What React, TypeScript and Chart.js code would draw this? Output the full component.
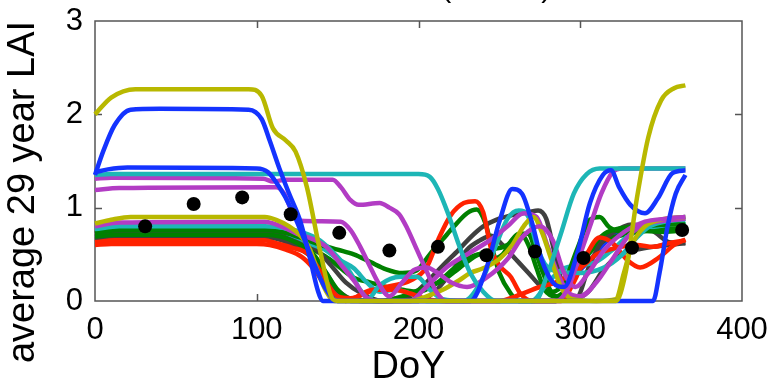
import React, { useEffect, useRef } from "react";
import { Chart, registerables } from "chart.js";
Chart.register(...registerables);

type P = [number, number];

const X_TICKS = [0, 100, 200, 300, 400];
const Y_TICKS = [0, 1, 2, 3];
const X_LABEL = "DoY";
const Y_LABEL = "average 29 year LAI";
const TITLE = "LAI (DGVM)";

const monthDoY = [31, 61, 91, 121, 151, 182, 212, 242, 272, 302, 332, 363];
const monthMeanLAI = [0.8, 1.04, 1.11, 0.93, 0.73, 0.54, 0.58, 0.49, 0.53, 0.46, 0.57, 0.76];

const RED = "#ff2200";
const GREEN = "#008000";
const BLUE = "#1433ff";
const MAGENTA = "#b23cc4";
const CYAN = "#1db6b6";
const OLIVE = "#b8b800";
const GRAY = "#404040";

const blueLow: P[] = [[0,0.68],[15,0.7],[105,0.7],[115,0.68],[125,0.6],[135,0.48],[143,0.3],[150,0.1],[158,0],[285,0],[296,0.26],[306,0.44],[317,0.65],[330,0.78],[343,0.83],[355,0.88],[365,0.9]];
const grayB: P[] = [[0,0.66],[15,0.68],[105,0.68],[120,0.62],[135,0.45],[145,0.2],[155,0.05],[165,0],[200,0],[210,0.1],[220,0.3],[230,0.55],[238,0.65],[245,0.7],[252,0.6],[260,0.45],[268,0.3],[276,0.15],[285,0.05],[295,0.02],[305,0.1],[315,0.35],[325,0.5],[335,0.55],[345,0.58],[355,0.6],[365,0.62]];
const greenC: P[] = [[0,0.72],[15,0.74],[105,0.74],[115,0.72],[125,0.65],[135,0.55],[145,0.45],[152,0.35],[160,0.25],[170,0.2],[180,0.15],[190,0.12],[200,0.1],[212,0.2],[222,0.35],[230,0.45],[238,0.5],[245,0.45],[252,0.5],[258,0.65],[263,0.72],[268,0.6],[273,0.35],[278,0.12],[285,0.05],[295,0.2],[305,0.5],[315,0.65],[325,0.7],[340,0.75],[352,0.77],[365,0.78]];
const grayA: P[] = [[0,0.72],[15,0.74],[105,0.74],[115,0.72],[125,0.67],[135,0.58],[145,0.4],[155,0.2],[165,0.08],[178,0],[195,0.05],[205,0.2],[215,0.38],[225,0.55],[232,0.68],[240,0.8],[248,0.87],[258,0.92],[268,0.95],[274,0.97],[279,0.88],[283,0.6],[287,0.3],[292,0.08],[298,0.05],[305,0.35],[312,0.6],[320,0.73],[332,0.82],[345,0.75],[355,0.63],[365,0.62]];
const cyanC: P[] = [[0,0.76],[15,0.78],[105,0.78],[115,0.75],[125,0.68],[135,0.6],[142,0.55],[150,0.45],[160,0.35],[168,0.2],[176,0.1],[185,0.12],[195,0.08],[205,0],[270,0],[280,0.2],[290,0.35],[300,0.38],[310,0.42],[320,0.55],[330,0.7],[342,0.78],[355,0.82],[365,0.85]];
const greenB: P[] = [[0,0.69],[15,0.71],[105,0.71],[115,0.69],[125,0.62],[135,0.5],[143,0.3],[150,0.12],[158,0.02],[175,0],[190,0.05],[205,0.15],[215,0.22],[225,0.35],[235,0.48],[245,0.55],[255,0.6],[262,0.72],[268,0.72],[272,0.55],[277,0.3],[283,0.1],[290,0.2],[298,0.55],[306,0.87],[312,0.9],[318,0.79],[329,0.73],[340,0.75],[352,0.74],[365,0.76]];
const greenA: P[] = [[0,0.73],[15,0.76],[105,0.76],[112,0.75],[120,0.72],[130,0.66],[140,0.6],[150,0.55],[160,0.5],[170,0.42],[180,0.34],[190,0.3],[199,0.33],[207,0.5],[215,0.66],[222,0.8],[230,0.94],[236,0.98],[241,0.85],[245,0.6],[250,0.3],[257,0.08],[262,0],[285,0],[292,0.1],[300,0.35],[306,0.55],[315,0.72],[325,0.78],[340,0.8],[355,0.82],[365,0.82]];
const redB: P[] = [[0,0.63],[12,0.65],[105,0.65],[112,0.62],[122,0.57],[132,0.5],[140,0.3],[147,0.1],[155,0],[160,0.03],[172,0.12],[185,0.12],[195,0.08],[205,0.02],[215,0],[250,0],[260,0.05],[275,0.15],[285,0.2],[300,0.35],[310,0.5],[318,0.55],[325,0.58],[335,0.6],[345,0.58],[355,0.62],[365,0.65]];
const redA: P[] = [[0,0.6],[10,0.61],[100,0.61],[108,0.6],[118,0.55],[128,0.47],[135,0.35],[142,0.18],[150,0.05],[158,0.03],[170,0.1],[180,0.15],[195,0.22],[205,0.36],[212,0.65],[220,0.92],[228,1.05],[235,1.07],[240,0.95],[245,0.55],[250,0.38],[257,0.26],[263,0.08],[270,0],[288,0],[296,0.2],[304,0.5],[312,0.68],[320,0.62],[329,0.44],[337,0.36],[349,0.47],[358,0.6],[365,0.66]];
const cyanB: P[] = [[0,0.77],[15,0.8],[105,0.8],[118,0.78],[129,0.73],[139,0.65],[150,0.47],[158,0.3],[164,0.12],[169,0.03],[176,0.17],[189,0.26],[199,0.26],[207,0.12],[215,0.02],[228,0],[240,0.25],[248,0.6],[255,0.88],[262,0.97],[268,0.9],[273,0.6],[278,0.4],[285,0.32],[300,0.3],[315,0.36],[325,0.48],[335,0.68],[343,0.8],[355,0.86],[365,0.88]];
const magentaC: P[] = [[0,0.8],[15,0.84],[105,0.85],[115,0.8],[125,0.72],[135,0.66],[143,0.58],[153,0.37],[160,0.22],[167,0.05],[175,0],[195,0],[203,0.12],[218,0.37],[232,0.52],[244,0.65],[255,0.8],[265,0.94],[273,0.9],[280,0.58],[286,0.3],[292,0.1],[300,0.05],[310,0.2],[320,0.45],[330,0.7],[340,0.82],[352,0.86],[365,0.88]];
const oliveLow: P[] = [[0,0.83],[10,0.87],[22,0.9],[105,0.9],[112,0.87],[120,0.8],[127,0.7],[133,0.55],[138,0.3],[143,0.1],[148,0],[195,0],[205,0.05],[215,0.12],[225,0.22],[232,0.3],[240,0.35],[250,0.45],[258,0.6],[265,0.8],[271,0.9],[276,0.75],[282,0.45],[288,0.15],[295,0.02],[310,0],[322,0.02],[327,0.3],[332,0.6],[340,0.8],[352,0.88],[365,0.9]];
const magentaB: P[] = [[0,1.19],[15,1.21],[112,1.22],[117,1.15],[122,0.95],[127,0.86],[152,0.85],[158,0.76],[164,0.58],[170,0.37],[175,0.2],[182,0.05],[190,0.2],[197,0.33],[205,0.36],[212,0.3],[220,0.2],[230,0.15],[242,0.25],[255,0.45],[265,0.7],[275,0.8],[283,0.65],[290,0.3],[297,0.15],[305,0.3],[315,0.55],[328,0.75],[340,0.85],[352,0.88],[365,0.9]];
const magentaHigh: P[] = [[0,1.31],[10,1.32],[104,1.31],[110,1.28],[118,1.3],[147,1.3],[152,1.22],[158,1.08],[163,1.03],[176,1.05],[182,1.0],[188,0.93],[193,0.78],[199,0.55],[205,0.32],[211,0.1],[217,0],[285,0],[292,0.12],[299,0.45],[306,0.8],[313,1.15],[320,1.38],[326,1.42],[365,1.42]];
const cyanHigh: P[] = [[0,1.35],[10,1.36],[200,1.36],[207,1.33],[212,1.2],[218,0.95],[225,0.6],[232,0.3],[240,0.1],[248,0],[272,0],[280,0.3],[288,0.72],[296,1.15],[304,1.36],[312,1.42],[365,1.42]];
const blueMid: P[] = [[0,1.38],[8,1.41],[20,1.43],[100,1.42],[107,1.38],[114,1.22],[121,1.0],[128,0.72],[135,0.42],[142,0.15],[150,0],[232,0],[242,0.35],[250,0.85],[258,1.2],[264,1.15],[270,0.85],[276,0.45],[283,0.2],[290,0.15],[298,0.5],[306,1.05],[314,1.35],[319,1.4],[324,1.22],[331,1.03],[340,0.94],[348,1.1],[357,1.37],[365,1.4]];
const blueHigh: P[] = [[0,1.35],[5,1.6],[12,1.88],[22,2.05],[40,2.06],[95,2.05],[103,1.95],[108,1.72],[114,1.42],[120,1.15],[127,0.85],[133,0.45],[138,0.1],[141,0],[345,0],[349,0.3],[354,0.8],[359,1.15],[365,1.35]];
const oliveHigh: P[] = [[0,2.0],[10,2.18],[25,2.27],[95,2.27],[103,2.2],[110,1.85],[118,1.72],[124,1.6],[131,1.22],[139,0.55],[147,0.02],[150,0],[322,0],[328,0.3],[335,1.1],[342,1.75],[350,2.15],[358,2.28],[365,2.31]];

// bottom-most first
const SERIES: { pts: P[]; color: string }[] = [
  { pts: blueLow, color: BLUE },
  { pts: grayB, color: GRAY },
  { pts: greenC, color: GREEN },
  { pts: grayA, color: GRAY },
  { pts: cyanC, color: CYAN },
  { pts: greenB, color: GREEN },
  { pts: greenA, color: GREEN },
  { pts: redB, color: RED },
  { pts: redA, color: RED },
  { pts: cyanB, color: CYAN },
  { pts: magentaC, color: MAGENTA },
  { pts: oliveLow, color: OLIVE },
  { pts: magentaB, color: MAGENTA },
  { pts: magentaHigh, color: MAGENTA },
  { pts: cyanHigh, color: CYAN },
  { pts: blueMid, color: BLUE },
  { pts: blueHigh, color: BLUE },
  { pts: oliveHigh, color: OLIVE },
];

const FONT = "'Liberation Sans', Arial, sans-serif";

const framePlugin = {
  id: "frame",
  beforeDatasetsDraw(chart: any) {
    const { ctx, chartArea: a, scales } = chart;
    ctx.save();
    ctx.strokeStyle = "#555";
    ctx.lineWidth = 1.5;
    ctx.strokeRect(a.left, a.top, a.right - a.left, a.bottom - a.top);
    const tl = 7;
    ctx.beginPath();
    X_TICKS.slice(1, -1).forEach((v) => {
      const px = Math.round(scales.x.getPixelForValue(v)) + 0.5;
      ctx.moveTo(px, a.bottom);
      ctx.lineTo(px, a.bottom - tl);
      ctx.moveTo(px, a.top);
      ctx.lineTo(px, a.top + tl);
    });
    Y_TICKS.slice(1, -1).forEach((v) => {
      const py = Math.round(scales.y.getPixelForValue(v)) + 0.5;
      ctx.moveTo(a.left, py);
      ctx.lineTo(a.left + tl, py);
      ctx.moveTo(a.right, py);
      ctx.lineTo(a.right - tl, py);
    });
    ctx.stroke();
    ctx.restore();
  },
  afterDraw(chart: any) {
    const { ctx, chartArea: a } = chart;
    ctx.save();
    ctx.fillStyle = "#000";
    ctx.font = `38px ${FONT}`;
    ctx.textAlign = "center";
    ctx.textBaseline = "middle";
    ctx.fillText(X_LABEL, (a.left + a.right) / 2 - 10, a.bottom + 67);
    ctx.translate(24, (a.top + a.bottom) / 2 + 31);
    ctx.rotate(-Math.PI / 2);
    ctx.fillText(Y_LABEL, 0, 0);
    ctx.restore();
    ctx.save();
    ctx.fillStyle = "#000";
    ctx.font = `30px ${FONT}`;
    ctx.textAlign = "right";
    ctx.textBaseline = "alphabetic";
    ctx.fillText(TITLE, a.left + (a.right - a.left) * 0.705, -3);
    ctx.restore();
  },
};

export default function App() {
  const ref = useRef<HTMLCanvasElement | null>(null);
  useEffect(() => {
    if (!ref.current) return;
    const datasets: any[] = [
      {
        type: "scatter",
        data: monthDoY.map((d, i) => ({ x: d, y: monthMeanLAI[i] })),
        backgroundColor: "#000",
        borderWidth: 0,
        pointRadius: 7,
        showLine: false,
        clip: false,
      },
      ...SERIES.slice()
        .reverse()
        .map((s) => ({
          type: "line",
          data: s.pts.map(([x, y]) => ({ x, y })),
          borderColor: s.color,
          backgroundColor: s.color,
          borderWidth: 4.5,
          pointRadius: 0,
          cubicInterpolationMode: "monotone",
          fill: false,
          clip: false,
        })),
    ];
    const chart = new Chart(ref.current, {
      type: "line",
      data: { datasets },
      plugins: [framePlugin],
      options: {
        animation: false,
        responsive: false,
        devicePixelRatio: 1,
        layout: { padding: { left: 0, right: 25, top: 21, bottom: 0 } },
        plugins: { legend: { display: false }, tooltip: { enabled: false }, title: { display: false } },
        scales: {
          x: {
            type: "linear",
            min: 0,
            max: 400,
            afterBuildTicks: (s: any) => { s.ticks = X_TICKS.map((v) => ({ value: v })); },
            afterFit: (s: any) => { s.height = 84; s.paddingLeft = 0; s.paddingRight = 0; },
            grid: { display: false, drawTicks: false },
            border: { display: false },
            ticks: { color: "#000", font: { family: FONT, size: 31 }, padding: 11, maxRotation: 0, autoSkip: false },
          },
          y: {
            type: "linear",
            min: 0,
            max: 3,
            afterBuildTicks: (s: any) => { s.ticks = Y_TICKS.map((v) => ({ value: v })); },
            afterFit: (s: any) => { s.width = 95; s.paddingTop = 0; s.paddingBottom = 0; },
            grid: { display: false, drawTicks: false },
            border: { display: false },
            ticks: { color: "#000", font: { family: FONT, size: 31 }, padding: 12 },
          },
        },
      } as any,
    });
    return () => chart.destroy();
  }, []);
  return (
    <div style={{ position: "fixed", left: 0, top: 0, width: 767, height: 385, background: "#fff" }}>
      <canvas ref={ref} width={767} height={385} style={{ display: "block", width: 767, height: 385 }} />
    </div>
  );
}
